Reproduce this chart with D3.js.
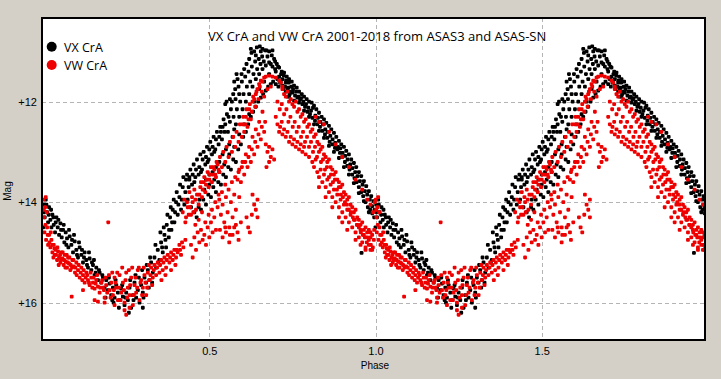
<!DOCTYPE html>
<html><head><meta charset="utf-8">
<script src="https://cdn.jsdelivr.net/npm/d3@7/dist/d3.min.js"></script>
<style>
html,body{margin:0;padding:0;background:#d4d0c8;}
svg{display:block;}
</style></head><body>
<svg id="chart" width="721" height="379"></svg>
<script>
const titleText = "VX CrA and VW CrA 2001-2018 from ASAS3 and ASAS-SN";
const seriesNames = ["VX CrA", "VW CrA"];
const xTicks = [0.5, 1.0, 1.5];
const xTickLabels = ["0.5", "1.0", "1.5"];
const yTicks = [12, 14, 16];
const yTickLabels = ["+12", "+14", "+16"];

// VX CrA: [phase, mag], phase-folded (0..1), plotted twice (phase and phase+1)
const vxData = [
[0.002,14.05],[0.005,14.3],[0.008,13.95],[0.012,14.2],[0.015,14.4],[0.018,14.1],[0.022,14.35],[0.025,14.5],[0.028,14.25],[0.032,14.45],[0.036,14.6],[0.04,14.3],[0.044,14.5],[0.048,14.65],[0.052,14.42],[0.056,14.7],[0.06,14.55],[0.064,14.8],[0.068,14.6],[0.072,14.72],[0.076,14.9],[0.08,14.68],[0.085,14.85],[0.09,15.0],[0.095,14.78],[0.1,14.95],[0.105,15.1],[0.11,14.9],[0.115,15.05],[0.12,15.2],[0.125,15.0],[0.13,15.15],[0.135,15.3],[0.14,15.12],[0.145,15.35],[0.15,15.25],[0.155,15.45],[0.16,15.3],[0.165,15.55],[0.17,15.4],[0.175,15.6],[0.18,15.5],[0.185,15.7],[0.19,15.55],[0.195,15.75],[0.2,15.62],[0.205,15.85],[0.21,15.7],[0.215,15.9],[0.22,15.65],[0.225,15.8],[0.23,15.95],[0.235,15.72],[0.24,15.88],[0.245,16.05],[0.25,15.8],[0.255,15.95],[0.26,15.7],[0.265,16.1],[0.27,15.85],[0.275,15.6],[0.28,15.9],[0.285,15.75],[0.29,16.0],[0.295,15.65],[0.3,15.8],[0.305,15.5],
[0.31,15.6],[0.315,15.35],[0.32,15.55],[0.325,15.2],[0.33,15.4],[0.335,15.1],[0.34,15.3],[0.345,14.95],[0.35,15.15],[0.355,14.8],[0.36,15.0],[0.365,14.65],[0.37,14.9],[0.372,14.45],[0.378,14.7],[0.382,14.3],[0.386,14.55],[0.39,14.15],[0.395,14.4],[0.4,14.0],[0.405,14.25],[0.41,13.9],[0.415,14.15],[0.42,13.7],[0.425,14.05],[0.43,13.55],[0.435,13.95],[0.44,13.5],[0.445,14.1],
[0.44,13.55],[0.45,13.45],[0.455,13.6],[0.46,13.35],[0.47,13.3],[0.475,13.4],[0.48,13.15],[0.49,13.1],[0.495,13.2],[0.5,12.95],[0.51,12.9],[0.515,13.0],[0.52,12.75],[0.53,12.7],[0.535,12.6],[0.54,12.5],[0.548,12.45],[0.552,12.0],[0.558,12.3],[0.565,12.15],[0.572,11.85],[0.578,11.75],[0.585,11.55],[0.59,11.85],[0.597,11.45],[0.605,11.35],[0.612,11.25],[0.62,11.15],[0.627,11.03],[0.635,11.0],[0.643,10.92],[0.652,10.9],[0.66,10.95],[0.668,10.98],
[0.455,14.2],[0.462,14.3],[0.468,14.1],[0.475,14.15],[0.482,13.95],[0.49,14.05],[0.497,13.85],[0.505,13.9],[0.512,13.7],[0.52,13.8],[0.527,13.6],[0.535,13.65],[0.542,13.45],[0.55,13.5],[0.557,13.3],[0.565,13.35],[0.572,13.15],[0.58,13.2],[0.587,12.95],[0.595,12.85],[0.602,12.7],[0.61,12.6],[0.617,12.45],[0.625,12.3],[0.632,12.2],[0.64,12.1],[0.647,12.0],[0.655,11.92],[0.662,11.85],[0.67,11.78],[0.677,11.7],[0.685,11.65],[0.692,11.6],[0.7,11.65],[0.708,11.7],[0.715,11.6],[0.722,11.75],[0.73,11.8],[0.738,11.72],
[0.49,13.55],[0.5,13.45],[0.51,13.4],[0.52,13.3],[0.53,13.2],[0.54,13.05],[0.55,12.95],[0.56,12.85],[0.57,12.7],[0.575,12.55],[0.58,12.45],[0.59,12.3],[0.6,12.15],[0.61,12.0],[0.62,11.85],[0.63,11.7],[0.64,11.55],[0.65,11.45],[0.66,11.35],[0.67,11.28],[0.68,11.22],[0.69,11.3],[0.7,11.4],
[0.672,10.98],[0.68,11.0],[0.688,11.08],[0.695,11.15],[0.703,11.25],[0.71,11.32],[0.718,11.4],[0.725,11.42],[0.733,11.5],[0.74,11.55],[0.748,11.6],[0.755,11.68],[0.763,11.72],[0.77,11.8],[0.778,11.85],[0.785,11.9],[0.793,11.95],[0.8,12.0],[0.808,12.02],[0.815,12.08],[0.822,12.15],[0.83,12.22],[0.838,12.3],[0.845,12.35],[0.852,12.42],[0.86,12.48],[0.867,12.55],[0.875,12.62],[0.882,12.7],[0.89,12.78],[0.897,12.85],[0.905,12.9],[0.912,12.98],[0.92,13.05],[0.927,13.15],[0.935,13.22],[0.942,13.3],[0.95,13.4],[0.957,13.48],[0.965,13.58],[0.972,13.68],[0.98,13.78],[0.987,13.88],[0.994,13.98],
[0.705,11.55],[0.713,11.62],[0.72,11.68],[0.728,11.7],[0.735,11.75],[0.743,11.8],[0.75,11.82],[0.758,11.88],[0.765,11.92],[0.773,11.96],[0.78,12.05],[0.788,12.1],[0.795,12.2],[0.803,12.25],[0.81,12.32],[0.818,12.38],[0.825,12.45],[0.833,12.5],[0.84,12.58],[0.848,12.65],[0.855,12.72],[0.862,12.8],[0.87,12.85],[0.878,12.92],[0.885,12.95],[0.893,13.02],[0.9,13.1],[0.908,13.2],[0.915,13.28],[0.922,13.35],[0.93,13.45],[0.937,13.52],[0.943,13.6],[0.95,13.7],[0.957,13.8],[0.963,13.88],[0.97,14.0],[0.977,14.1],[0.984,14.15],[0.99,14.22],[0.996,14.3],
[0.958,15.01],[0.675,11.1],[0.685,11.25],[0.698,11.35],[0.71,11.5],[0.72,11.55],[0.73,11.62],[0.742,11.85],[0.735,11.9],[0.625,10.95],[0.64,11.08],[0.655,11.0],[0.69,10.98],
[0.698,11.2],[0.707,11.3],[0.716,11.45],[0.724,11.48],[0.731,11.58],[0.739,11.62],[0.747,11.7],[0.752,11.75],[0.761,11.8],[0.768,11.9],[0.776,11.93],[0.783,12.0],[0.791,12.05],[0.798,12.12],[0.806,12.18],[0.812,12.12],[0.819,12.28],[0.827,12.32],[0.834,12.4],[0.842,12.45],[0.849,12.55],[0.856,12.6],[0.864,12.68],[0.871,12.75],[0.879,12.82],[0.887,12.9],[0.894,12.93],[0.901,13.02],[0.909,13.08],[0.916,13.15],[0.924,13.25],[0.931,13.32],[0.939,13.4],[0.946,13.48],[0.953,13.58],[0.961,13.65],[0.968,13.78],[0.975,13.85],[0.983,13.95],[0.99,14.08],[0.997,14.15],
[0.74,11.9],[0.755,11.98],[0.77,12.02],[0.785,12.18],[0.8,12.3],[0.815,12.45],[0.83,12.58],[0.845,12.72],[0.86,12.88],[0.875,13.0],[0.89,13.12],[0.905,13.3],[0.92,13.45],[0.935,13.62],[0.95,13.82],[0.965,13.98],[0.98,14.2],
[0.338,14.85],[0.347,15.2],[0.353,14.6],[0.358,14.9],[0.363,14.5],[0.368,14.75],[0.374,14.25],[0.379,14.55],[0.384,14.1],[0.388,14.4],[0.393,13.95],[0.397,14.2],[0.402,13.8],[0.407,14.05],[0.412,13.65],[0.417,13.95],[0.422,13.5],[0.428,13.8],[0.433,13.45],[0.438,13.7],[0.443,13.35],[0.448,13.65],[0.453,13.25],[0.458,13.5],[0.463,13.15],[0.468,13.45],[0.473,13.05],[0.478,13.35],[0.483,13.0],[0.488,13.25],[0.493,12.9],[0.498,13.15],[0.503,12.8],[0.508,13.05],[0.513,12.7],[0.518,12.95],[0.523,12.6],[0.528,12.85],[0.533,12.5],[0.538,12.75],[0.543,12.35],[0.546,12.6],[0.553,12.25],[0.556,12.6],[0.562,12.4],[0.568,12.0],[0.573,12.3],[0.579,11.95],[0.583,12.15],[0.588,11.7],[0.593,12.0],[0.598,11.6],[0.603,11.85],[0.608,11.5],[0.613,11.7],[0.618,11.4],[0.623,11.6],[0.628,11.3],[0.633,11.45],[0.638,11.2],[0.644,11.35],[0.649,11.15],[0.654,11.25],[0.659,11.1],[0.664,11.2],
[0.47,13.95],[0.485,13.75],[0.5,13.65],[0.515,13.55],[0.53,13.4],[0.545,13.25],[0.56,13.05],[0.575,12.9],[0.59,12.65],[0.605,12.45],[0.62,12.25],[0.635,12.0],[0.65,11.75],[0.665,11.6],[0.68,11.45],[0.548,12.05],[0.562,11.95],[0.575,11.6],[0.582,11.45],
[0.158,15.4],[0.168,15.35],[0.178,15.45],[0.188,15.9],[0.198,15.5],[0.208,15.95],[0.218,15.55],[0.228,16.1],[0.238,15.65],[0.248,15.9],[0.258,16.2],[0.262,15.55],[0.272,15.95],[0.278,15.45],[0.288,15.5],[0.298,15.35],[0.302,15.9],[0.312,15.25],[0.318,15.7],[0.322,15.1],[0.328,15.6],[0.3,16.1],[0.212,16.0],
[0.003,14.2],[0.01,14.05],[0.017,14.25],[0.024,14.15],[0.031,14.3],[0.038,14.4],[0.046,14.35],[0.054,14.55],[0.062,14.45],[0.07,14.85],[0.078,14.55],[0.087,14.75],[0.093,14.65],[0.102,15.05],[0.108,14.8],[0.117,14.95],[0.123,15.1],[0.132,15.25],[0.138,15.0],[0.147,15.2],[0.153,15.15],[0.0,14.5]
];

// VW CrA: [phase, mag]
const vwData = [
[0.001,13.95],[0.004,14.6],[0.006,14.1],[0.009,14.75],[0.012,14.5],[0.015,14.85],[0.018,14.65],[0.022,14.9],[0.025,14.75],[0.028,15.0],[0.032,14.85],[0.035,15.05],[0.038,14.95],[0.042,15.15],[0.045,14.98],[0.048,15.1],[0.052,15.2],[0.055,15.0],[0.058,15.12],[0.062,15.25],[0.065,15.05],[0.068,15.18],[0.072,15.3],[0.075,15.1],[0.078,15.22],[0.082,15.35],[0.086,15.88],[0.088,15.15],[0.092,15.28],[0.096,15.4],[0.1,15.2],[0.105,15.35],[0.11,15.5],[0.115,15.3],[0.12,15.45],[0.12,15.75],[0.125,15.6],[0.13,15.4],[0.135,15.55],[0.14,15.65],[0.145,15.5],[0.15,15.6],[0.155,15.72],[0.155,15.95],[0.16,15.55],[0.165,15.68],[0.165,15.98],[0.17,15.8],[0.175,15.6],[0.18,15.7],[0.185,15.9],[0.19,15.65],[0.196,14.4],[0.2,15.75],[0.205,15.6],[0.21,15.85],[0.215,15.5],[0.22,15.7],[0.225,15.95],[0.23,15.45],[0.235,15.8],[0.24,15.6],[0.245,16.0],[0.25,15.4],[0.25,16.24],[0.255,15.7],[0.26,15.85],[0.265,15.5],[0.27,16.05],[0.275,15.65],[0.28,15.8],[0.285,15.35],[0.29,15.95],[0.295,15.55],[0.3,15.7],[0.305,15.45],[0.31,15.85],[0.315,15.4],
[0.32,15.55],[0.325,15.3],[0.33,15.5],[0.335,15.25],[0.34,15.45],[0.345,15.2],[0.35,15.4],[0.355,15.15],[0.36,15.35],[0.365,15.1],[0.37,15.3],[0.375,15.05],[0.38,15.2],[0.385,15.0],[0.39,15.15],[0.395,14.95],[0.4,15.1],[0.405,15.0],[0.41,14.85],[0.415,15.05],
[0.42,14.2],[0.425,13.95],[0.43,14.3],[0.435,14.1],[0.44,13.8],[0.445,14.25],[0.45,14.0],[0.455,13.75],[0.46,14.15],[0.445,14.85],[0.45,15.1],[0.455,14.7],[0.46,14.95],[0.465,14.6],[0.47,14.8],[0.475,14.55],[0.48,14.75],[0.485,14.65],[0.49,14.85],[0.495,14.5],[0.5,14.7],[0.505,14.4],[0.51,14.6],[0.515,14.3],[0.52,14.55],
[0.47,13.85],[0.475,13.6],[0.48,13.75],[0.485,13.5],[0.49,13.65],[0.495,13.4],[0.5,13.55],[0.505,13.3],[0.51,13.45],[0.515,13.35],[0.52,13.5],[0.525,13.25],[0.53,13.4],
[0.525,14.1],[0.53,13.95],[0.535,14.25],[0.54,14.05],[0.545,14.4],[0.55,13.9],[0.555,14.2],[0.56,14.5],[0.565,14.0],[0.57,14.3],[0.575,13.85],[0.58,14.15],[0.585,14.6],[0.59,13.9],[0.54,14.7],[0.55,14.6],[0.56,14.8],[0.57,14.65],[0.58,14.45],[0.617,14.5],[0.622,14.6],[0.63,13.85],[0.635,14.05],[0.64,14.15],[0.645,13.95],
[0.585,13.55],[0.59,13.35],[0.595,13.6],[0.6,13.2],[0.605,13.45],[0.61,13.05],[0.615,13.3],[0.62,12.9],[0.625,13.2],[0.63,12.7],[0.635,13.05],[0.64,12.55],[0.645,12.9],[0.65,12.4],[0.655,12.75],[0.66,12.2],[0.665,12.6],[0.67,12.85],[0.675,13.0],[0.68,12.9],[0.685,13.1],[0.69,12.95],[0.695,13.15],[0.6,12.45],[0.605,12.6],[0.61,12.3],[0.615,12.5],[0.62,12.15],[0.625,12.35],[0.63,12.0],[0.635,11.95],[0.64,11.85],[0.645,11.75],[0.65,11.65],[0.655,11.58],[0.66,11.6],[0.665,11.52],[0.67,11.5],[0.68,11.48],[0.69,11.5],[0.7,11.52],[0.71,11.58],[0.715,11.62],[0.72,11.7],[0.665,11.9],[0.675,11.75],[0.685,11.7],
[0.7,12.3],[0.705,12.45],[0.71,12.6],[0.713,12.5],[0.718,12.4],[0.72,12.65],[0.725,12.55],[0.73,12.7],[0.735,12.6],[0.74,12.8],[0.745,12.7],[0.75,12.85],[0.755,12.75],[0.76,12.9],[0.765,12.8],[0.77,12.95],[0.775,12.85],[0.78,13.0],[0.785,12.9],[0.79,13.05],[0.8,13.1],[0.81,13.2],[0.815,13.3],[0.82,13.15],[0.825,13.4],[0.83,13.5],[0.835,13.35],[0.84,13.6],[0.845,13.45],[0.85,13.7],[0.855,13.55],[0.86,13.8],[0.865,13.65],[0.87,13.9],[0.875,13.75],[0.88,14.0],[0.885,13.85],[0.89,14.1],[0.895,13.95],[0.9,14.2],[0.905,14.05],[0.91,14.3],[0.915,14.15],[0.92,14.4],[0.925,14.25],[0.93,14.5],[0.935,14.35],[0.94,14.6],[0.945,14.45],[0.95,14.7],[0.955,14.55],[0.96,14.8],[0.965,14.65],[0.97,14.9],[0.975,14.7],[0.98,14.85],[0.985,14.6],[0.99,14.95],[0.995,14.75],
[0.72,11.75],[0.725,11.85],[0.73,11.9],[0.735,11.8],[0.74,12.0],[0.745,11.95],[0.75,12.05],[0.755,12.1],[0.76,12.0],[0.765,12.2],[0.77,12.15],[0.775,12.3],[0.78,12.25],[0.785,12.4],[0.79,12.35],[0.795,12.5],[0.8,12.45],[0.805,12.6],[0.81,12.55],[0.815,12.7],[0.82,12.65],[0.825,12.8],[0.83,12.85],[0.835,12.95],[0.84,12.9],[0.845,13.05],[0.85,13.1],[0.855,13.2],[0.86,13.15],[0.865,13.3],[0.87,13.35],[0.875,13.45],[0.88,13.4],[0.885,13.55],[0.89,13.6],[0.895,13.7],[0.9,13.65],[0.905,13.8],[0.91,13.85],[0.915,13.95],[0.92,13.9],[0.925,14.05],[0.93,14.1],[0.935,14.2],[0.94,14.15],[0.945,14.3],[0.95,14.35],[0.955,14.45],[0.96,14.4],[0.965,14.55],[0.97,14.5],[0.975,14.6],[0.98,14.55],[0.985,14.7],[0.99,14.65],
[0.82,12.3],[0.83,12.4],[0.845,12.45],[0.86,12.6],[0.88,12.85],[0.9,13.1],[0.92,13.3],[0.94,13.55],[0.96,13.75],[0.975,13.95],[0.985,14.05],[0.998,14.0],[0.993,14.2],
[0.003,14.3],[0.007,14.45],[0.011,14.2],[0.014,14.65],[0.019,14.8],[0.023,14.6],[0.027,14.85],[0.031,15.1],[0.034,14.92],[0.039,15.05],[0.043,14.9],[0.047,15.25],[0.051,15.05],[0.054,15.15],[0.059,15.0],[0.063,15.15],[0.067,15.3],[0.071,15.05],[0.074,15.2],[0.079,15.1],[0.083,15.25],[0.087,15.3],[0.091,15.15],[0.097,15.3],[0.101,15.45],[0.107,15.25],[0.113,15.4],[0.118,15.55],[0.122,15.35],[0.128,15.5],[0.133,15.45],[0.138,15.6],[0.143,15.4],[0.148,15.7],[0.002,14.15],[0.008,13.9],
[0.152,15.5],[0.158,15.62],[0.163,15.45],[0.172,15.7],[0.178,15.55],[0.183,15.75],[0.188,15.5],[0.193,15.8],[0.198,15.45],[0.203,15.9],[0.208,15.4],[0.213,15.75],[0.218,15.6],[0.223,15.4],[0.228,15.7],[0.233,15.95],[0.238,15.3],[0.243,15.75],[0.248,15.55],[0.253,15.9],[0.258,15.35],[0.262,15.65],[0.268,15.3],[0.273,15.85],[0.278,15.5],[0.283,15.7],[0.288,15.3],[0.293,15.6],[0.298,15.85],[0.303,15.3],[0.308,15.6],[0.313,15.7],[0.318,15.25],[0.323,15.45],[0.328,15.65],[0.26,16.1],[0.245,16.15],[0.215,16.05],[0.185,16.0],
[0.333,15.35],[0.343,15.3],[0.352,15.25],[0.362,15.2],[0.372,15.15],[0.382,15.1],[0.392,15.05],[0.402,14.95],[0.412,14.95],[0.418,14.8],[0.422,14.9],[0.428,14.75],[0.356,15.55],[0.368,15.45],[0.385,15.35],[0.398,15.25],
[0.428,14.4],[0.433,14.0],[0.438,14.25],[0.442,14.1],[0.448,13.9],[0.452,14.2],[0.458,13.95],[0.463,13.85],[0.468,14.05],[0.473,13.7],[0.478,13.9],[0.483,13.6],[0.488,13.8],[0.492,13.55],[0.498,13.7],[0.502,13.45],[0.508,13.6],[0.512,13.3],[0.518,13.45],[0.522,13.2],[0.528,13.35],[0.532,13.1],[0.538,13.3],[0.542,13.0],[0.548,13.2],[0.552,12.9],[0.558,13.1],[0.562,12.8],[0.568,13.0],[0.572,12.7],[0.578,12.9],[0.582,12.6],[0.588,12.8],[0.592,12.45],[0.598,12.7],[0.602,12.3],[0.608,12.45],[0.612,12.15],[0.618,12.35],[0.622,12.05],[0.628,12.2],[0.632,11.9],[0.638,12.1],[0.642,11.8],[0.648,11.95],[0.652,11.7],[0.658,11.8],
[0.458,14.45],[0.468,14.35],[0.478,14.2],[0.488,14.4],[0.498,14.25],[0.508,14.15],[0.518,14.0],[0.528,13.85],[0.538,13.8],[0.548,13.65],[0.558,13.75],[0.568,13.6],[0.578,13.5],[0.588,13.4],[0.598,13.3],[0.608,13.2],[0.618,13.1],[0.628,12.95],[0.638,12.8],[0.648,12.65],[0.658,12.5],[0.668,12.4],[0.532,14.55],[0.548,14.5],[0.562,14.65],[0.575,14.5],[0.588,14.75],[0.595,14.4],[0.612,14.3],[0.628,14.25],[0.645,14.3],[0.672,13.3],[0.68,13.2],
[0.705,12.0],[0.712,12.15],[0.718,12.05],[0.725,12.25],[0.732,12.15],[0.738,12.4],[0.744,12.3],[0.751,12.5],[0.757,12.4],[0.763,12.6],[0.769,12.5],[0.776,12.7],[0.782,12.6],[0.788,12.8],[0.794,12.7],[0.8,12.9],[0.806,12.8],[0.812,13.0],[0.818,12.9],[0.824,13.1],[0.83,13.0],[0.836,13.2],[0.842,13.15],[0.848,13.35],[0.854,13.3],[0.86,13.5],[0.866,13.45],[0.872,13.6],[0.878,13.55],[0.884,13.75],[0.89,13.7],[0.896,13.85],[0.902,13.9],[0.908,14.0],[0.914,14.05],[0.92,14.15],[0.926,14.2],[0.932,14.3],[0.938,14.35],[0.944,14.45],[0.95,14.5],[0.956,14.6],[0.962,14.65],[0.968,14.7],[0.974,14.8],[0.98,14.75],[0.986,14.85],[0.992,14.9],[0.996,14.55],[0.9,14.4],[0.915,14.55],[0.94,14.75],[0.955,14.85],[0.97,14.95],[0.985,14.95],[0.87,14.1],[0.89,14.3],[0.83,13.7],[0.85,13.9]
];

const seriesColors = ["#000000", "#ee0000"];

const svg = d3.select("#chart");
const plot = {left: 42, top: 18, right: 705, bottom: 340};

const x = d3.scaleLinear().domain([0, 2]).range([43.1, 707.9]);
const y = d3.scaleLinear().domain([12, 16]).range([101.7, 302.7]);

svg.append("rect").attr("width", 721).attr("height", 379).attr("fill", "#d4d0c8");
svg.append("rect").attr("x", plot.left).attr("y", plot.top)
  .attr("width", plot.right - plot.left).attr("height", plot.bottom - plot.top)
  .attr("fill", "#ffffff");

svg.append("defs").append("clipPath").attr("id", "clip")
  .append("rect").attr("x", plot.left + 1).attr("y", plot.top + 1)
  .attr("width", plot.right - plot.left - 2).attr("height", plot.bottom - plot.top - 2);

// grid
const grid = svg.append("g");
grid.selectAll("line.vx").data(xTicks).join("line")
  .attr("x1", d => Math.round(x(d)) + 0.5).attr("x2", d => Math.round(x(d)) + 0.5)
  .attr("y1", plot.top).attr("y2", plot.bottom)
  .attr("stroke", "#b4b4b4").attr("stroke-dasharray", "4,3");
grid.selectAll("line.hy").data(yTicks).join("line")
  .attr("y1", d => Math.round(y(d)) + 0.5).attr("y2", d => Math.round(y(d)) + 0.5)
  .attr("x1", plot.left).attr("x2", plot.right)
  .attr("stroke", "#b4b4b4").attr("stroke-dasharray", "4,3");

// points (each folded point shown at phase and phase+1)
const pts = svg.append("g").attr("clip-path", "url(#clip)");
function expand(data) {
  const out = [];
  data.forEach(d => { out.push(d); out.push([d[0] + 1, d[1]]); });
  return out;
}
[vxData, vwData].forEach((data, i) => {
  pts.append("g").selectAll("rect").data(expand(data)).join("rect")
    .attr("x", d => x(d[0]) - 1.9).attr("y", d => y(d[1]) - 1.9)
    .attr("width", 3.8).attr("height", 3.8).attr("rx", 1.1)
    .attr("fill", seriesColors[i]);
});

// frame
svg.append("rect").attr("x", plot.left).attr("y", plot.top)
  .attr("width", plot.right - plot.left).attr("height", plot.bottom - plot.top)
  .attr("fill", "none").attr("stroke", "#000").attr("stroke-width", 2);

// axes (labels only, via d3 axes)
const yAxis = d3.axisLeft(y).tickValues(yTicks).tickFormat((d, i) => yTickLabels[i]).tickSize(0).tickPadding(5);
const gy = svg.append("g").attr("transform", `translate(${plot.left},0)`).call(yAxis);
gy.select(".domain").remove();
gy.selectAll("text").attr("font-family", "Liberation Sans, Arial, sans-serif").attr("font-size", 11).attr("fill", "#000");

const xAxis = d3.axisBottom(x).tickValues(xTicks).tickFormat((d, i) => xTickLabels[i]).tickSize(0).tickPadding(7);
const gx = svg.append("g").attr("transform", `translate(0,${plot.bottom})`).call(xAxis);
gx.select(".domain").remove();
gx.selectAll("text").attr("font-family", "Liberation Sans, Arial, sans-serif").attr("font-size", 11).attr("fill", "#000");

svg.append("text").attr("x", 375).attr("y", 369).attr("text-anchor", "middle")
  .attr("font-family", "Liberation Sans, Arial, sans-serif").attr("font-size", 10).text("Phase");
svg.append("text").attr("transform", "translate(11,191) rotate(-90)").attr("text-anchor", "middle")
  .attr("font-family", "Liberation Sans, Arial, sans-serif").attr("font-size", 10).text("Mag");

// title
svg.append("text").attr("x", 208).attr("y", 41)
  .attr("font-family", "Open Sans, sans-serif").attr("font-size", 13).attr("fill", "#000").text(titleText);

// legend
const lg = svg.append("g");
seriesNames.forEach((n, i) => {
  lg.append("circle").attr("cx", 51.7).attr("cy", 46.7 + i * 18.3).attr("r", 5).attr("fill", seriesColors[i]);
  lg.append("text").attr("x", 64).attr("y", 51.5 + i * 18.3)
    .attr("font-family", "Open Sans, sans-serif").attr("font-size", 12.5).attr("fill", "#000").text(n);
});
</script>
</body></html>
